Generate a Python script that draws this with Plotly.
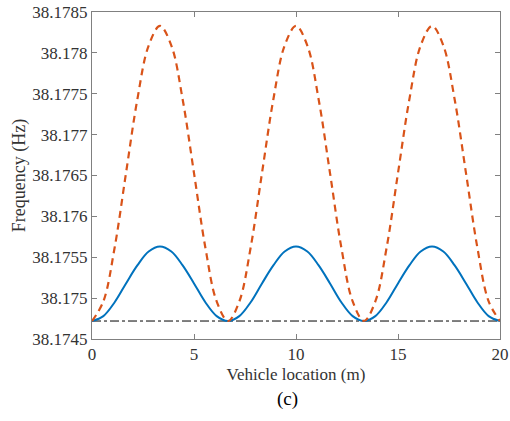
import plotly.graph_objects as go

x_loc = [0, 0.556, 1.111, 1.667, 2.222, 2.778, 3.333, 3.889, 4.444, 5.0, 5.556, 6.111,
         6.667, 7.222, 7.778, 8.333, 8.889, 9.444, 10.0, 10.556, 11.111, 11.667, 12.222, 12.778,
         13.333, 13.889, 14.444, 15.0, 15.556, 16.111, 16.667, 17.222, 17.778, 18.333, 18.889, 19.444, 20.0]

blue_freq = [38.17472, 38.17478, 38.17495, 38.17518, 38.17540, 38.17557, 38.17563, 38.17557, 38.17540, 38.17518, 38.17495, 38.17478,
             38.17472, 38.17478, 38.17495, 38.17518, 38.17540, 38.17557, 38.17563, 38.17557, 38.17540, 38.17518, 38.17495, 38.17478,
             38.17472, 38.17478, 38.17495, 38.17518, 38.17540, 38.17557, 38.17563, 38.17557, 38.17540, 38.17518, 38.17495, 38.17478,
             38.17472]

orange_freq = [38.17472, 38.17496, 38.17562, 38.17653, 38.17743, 38.17809, 38.17833, 38.17809, 38.17743, 38.17653, 38.17562, 38.17496,
               38.17472, 38.17496, 38.17562, 38.17653, 38.17743, 38.17809, 38.17833, 38.17809, 38.17743, 38.17653, 38.17562, 38.17496,
               38.17472, 38.17496, 38.17562, 38.17653, 38.17743, 38.17809, 38.17833, 38.17809, 38.17743, 38.17653, 38.17562, 38.17496,
               38.17472]

base_x = [0, 20]
base_freq = [38.17472, 38.17472]

x_ticks = [0, 5, 10, 15, 20]
y_ticks = [38.1745, 38.175, 38.1755, 38.176, 38.1765, 38.177, 38.1775, 38.178, 38.1785]
y_ticktext = ["38.1745", "38.175", "38.1755", "38.176", "38.1765", "38.177", "38.1775", "38.178", "38.1785"]

FONT = "Liberation Serif"

fig = go.Figure()
fig.add_trace(go.Scatter(x=base_x, y=base_freq, mode="lines",
                         line=dict(color="black", width=1, dash="dashdot"), showlegend=False))
fig.add_trace(go.Scatter(x=x_loc, y=blue_freq, mode="lines", line_shape="spline",
                         line=dict(color="#0072BD", width=2), showlegend=False))
fig.add_trace(go.Scatter(x=x_loc, y=orange_freq, mode="lines", line_shape="spline",
                         line=dict(color="#D95319", width=2.2, dash="7px,5px"), showlegend=False))

axis_common = dict(showgrid=False, zeroline=False, showline=True, linecolor="#808080", linewidth=1,
                   mirror="ticks", ticks="inside", ticklen=5, tickcolor="#808080", automargin=False,
                   tickfont=dict(family=FONT, size=17, color="#333333"))

fig.update_xaxes(range=[0, 20], tickvals=x_ticks, **axis_common,
                 title=dict(text="Vehicle location (m)", font=dict(family=FONT, size=17, color="#333333"), standoff=4))
fig.update_yaxes(range=[38.1745, 38.1785], tickvals=y_ticks, ticktext=y_ticktext, **axis_common,
                 title=dict(text="Frequency (Hz)", font=dict(family=FONT, size=18, color="#333333"), standoff=2))

fig.add_annotation(text="(c)", xref="paper", yref="paper", x=0.48, y=-0.185, yanchor="middle",
                   showarrow=False, font=dict(family=FONT, size=19, color="black"))

fig.update_layout(width=510, height=421, margin=dict(l=92, r=10, t=12, b=82),
                  plot_bgcolor="white", paper_bgcolor="white")

fig.write_html("out.html")
